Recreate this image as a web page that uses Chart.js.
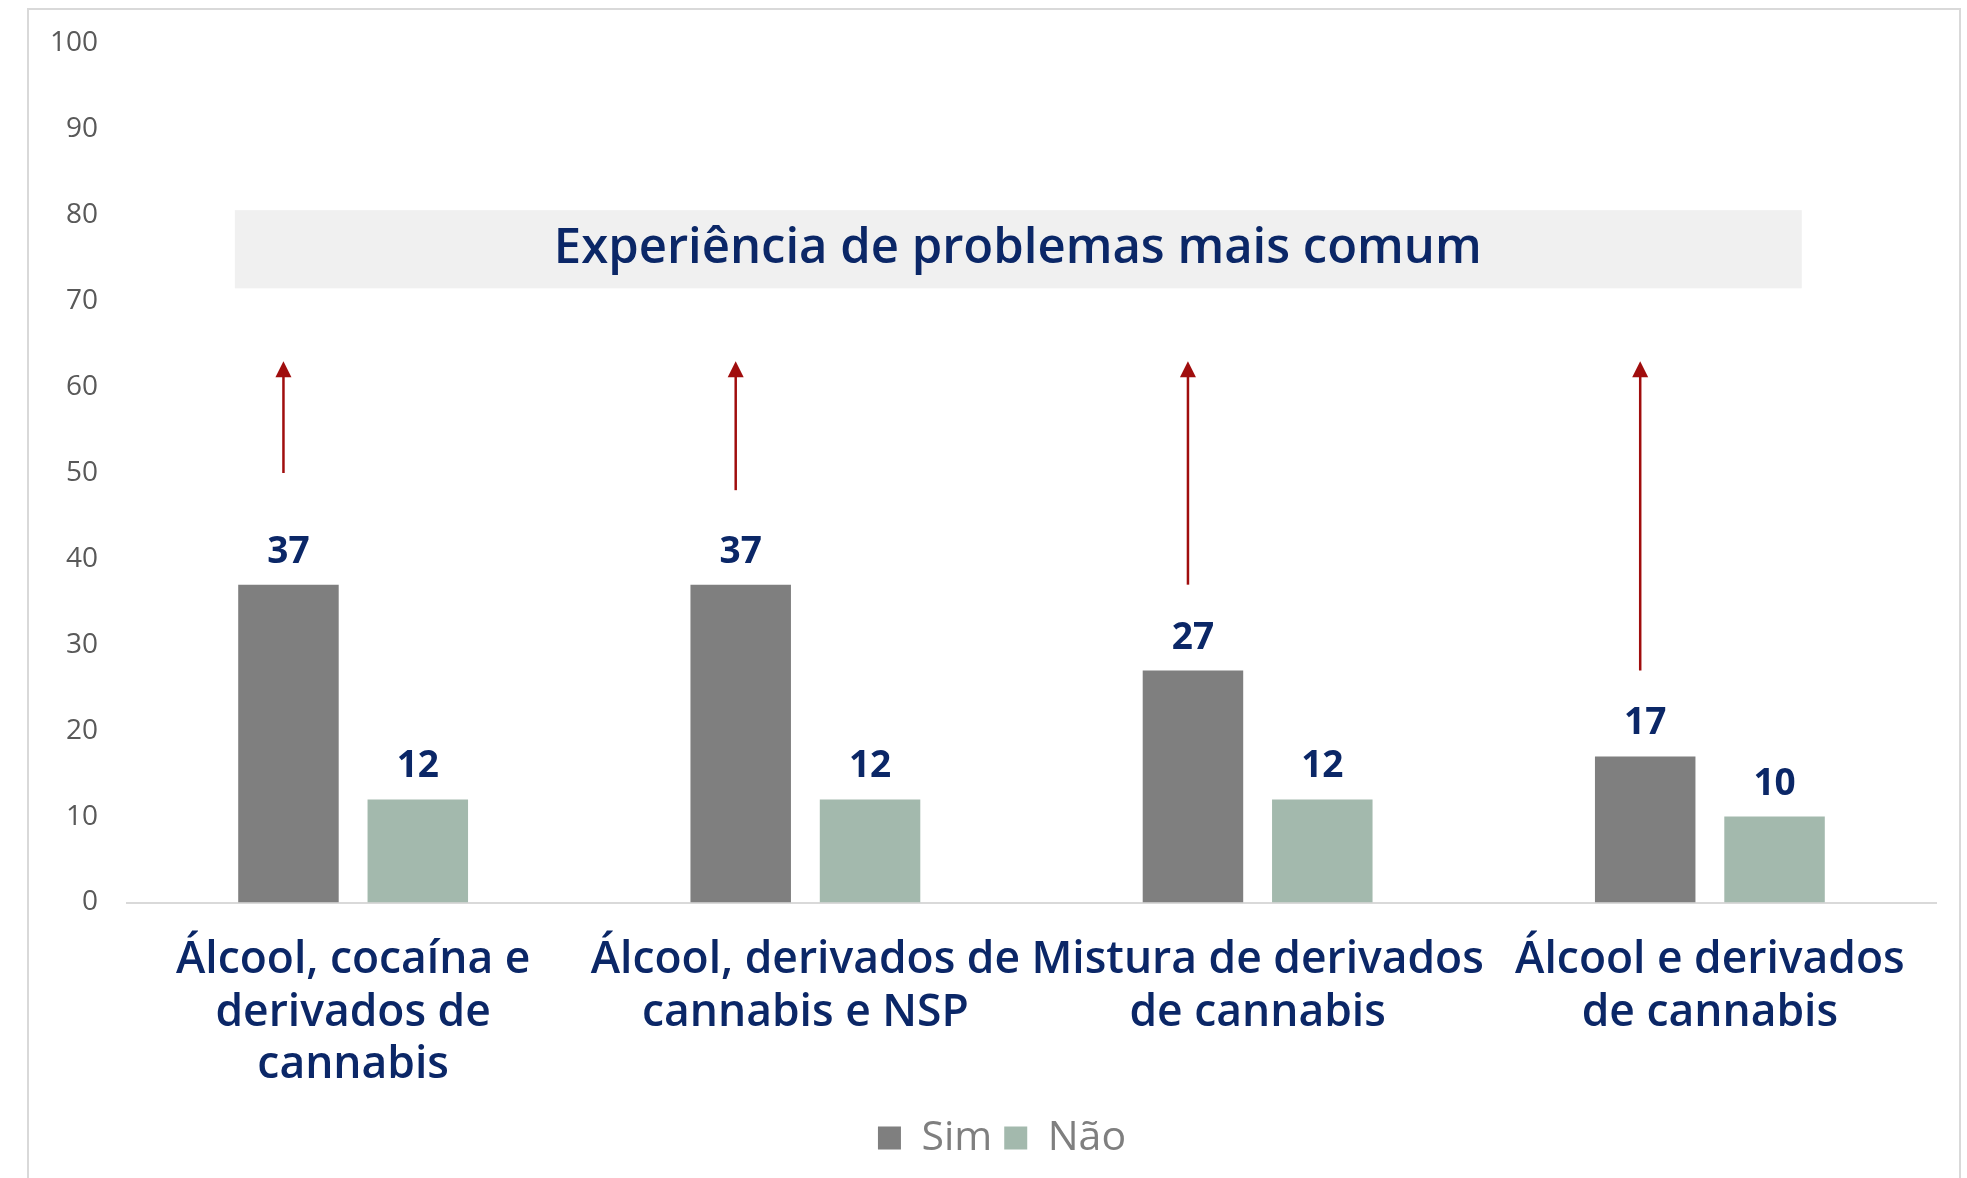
<!DOCTYPE html>
<html>
<head>
<meta charset="utf-8">
<script src="https://cdn.jsdelivr.net/npm/chart.js@4.4.0/dist/chart.umd.min.js"></script>
<style>
  html, body { margin: 0; padding: 0; background: #fff; }
  #wrap { position: relative; width: 1967px; height: 1178px; overflow: hidden; }
  #frame { position: absolute; left: 27px; top: 8px; width: 1934px; height: 1300px;
           border: 2px solid #d9d9d9; box-sizing: border-box; }
  canvas { position: absolute; left: 0; top: 0; }
</style>
</head>
<body>
<div id="wrap">
  <div id="frame"></div>
  <canvas id="chart" width="1967" height="1178"></canvas>
</div>
<script>
const categories = [
  ['Álcool, cocaína e', 'derivados de', 'cannabis'],
  ['Álcool, derivados de', 'cannabis e NSP'],
  ['Mistura de derivados', 'de cannabis'],
  ['Álcool e derivados', 'de cannabis']
]
const simValues = [37, 37, 27, 17]
const naoValues = [12, 12, 12, 10]
const seriesNames = ['Sim', 'Não']
const bannerText = 'Experiência de problemas mais comum'
const bannerRange = [71.5, 80.6]   // y values covered by the grey banner
const arrowStart = [50, 48, 37, 27]
const arrowEnd = 63

const navy = '#0b2767'
const labelFamily = '"Open Sans"'

// pick a font size so a text gets the width it has in the picture
function fitSize(text, weight, target) {
  const c = document.createElement('canvas').getContext('2d')
  c.font = weight + ' 100px ' + labelFamily
  return Math.round(100 * target / c.measureText(text).width * 10) / 10
}
const titleSize = fitSize(bannerText, '600', 928)
const tickSize = fitSize('Álcool, derivados de', '600', 429)

// grey banner, red arrows and value labels
const extras = {
  id: 'extras',
  beforeDraw(chart) {
    // legend in the picture sits a little right of centre
    chart.legend.left += 19
    chart.legend.right += 19
  },
  afterDatasetsDraw(chart) {
    const ctx = chart.ctx
    const y = chart.scales.y
    const area = chart.chartArea
    const w = area.right - area.left

    // banner
    const top = y.getPixelForValue(bannerRange[1])
    const bot = y.getPixelForValue(bannerRange[0])
    const bx0 = area.left + w * 0.0596
    const bx1 = area.left + w * 0.9258
    ctx.save()
    ctx.fillStyle = '#f0f0f0'
    ctx.fillRect(bx0, top, bx1 - bx0, bot - top)
    ctx.fillStyle = navy
    ctx.font = '600 ' + titleSize + 'px ' + labelFamily
    ctx.textAlign = 'center'
    ctx.textBaseline = 'middle'
    ctx.fillText(bannerText, area.left + w * 0.4924, (top + bot) / 2)

    // value labels
    chart.data.datasets.forEach((ds, di) => {
      chart.getDatasetMeta(di).data.forEach((bar, i) => {
        ctx.font = 'bold 37px "Open Sans"'
        ctx.fillStyle = navy
        ctx.textBaseline = 'alphabetic'
        ctx.fillText(ds.data[i], bar.x, bar.y - 22)
      })
    })

    // arrows above the Sim bars
    const sim = chart.getDatasetMeta(0).data
    ctx.strokeStyle = '#a00d0d'
    ctx.fillStyle = '#a00d0d'
    ctx.lineWidth = 2.5
    sim.forEach((bar, i) => {
      const x = bar.x - 5
      const y0 = y.getPixelForValue(arrowStart[i])
      const y1 = y.getPixelForValue(arrowEnd)
      ctx.beginPath()
      ctx.moveTo(x, y0)
      ctx.lineTo(x, y1 + 12)
      ctx.stroke()
      ctx.beginPath()
      ctx.moveTo(x, y1)
      ctx.lineTo(x - 8, y1 + 16)
      ctx.lineTo(x + 8, y1 + 16)
      ctx.closePath()
      ctx.fill()
    })
    ctx.restore()
  }
}

new Chart(document.getElementById('chart'), {
  type: 'bar',
  data: {
    labels: categories,
    datasets: [
      { label: seriesNames[0], data: simValues, backgroundColor: '#7f7f7f' },
      { label: seriesNames[1], data: naoValues, backgroundColor: '#a3b9ad' }
    ]
  },
  options: {
    responsive: false,
    animation: false,
    events: [],
    categoryPercentage: 0.572,
    barPercentage: 0.777,
    layout: { padding: { left: 30, right: 31, top: 43.5, bottom: 9.5 } },
    scales: {
      x: {
        grid: { display: false, drawTicks: false },
        border: { display: true, color: '#d9d9d9', width: 2 },
        ticks: {
          color: navy,
          font: { family: 'Open Sans', size: tickSize, weight: '600', lineHeight: 52.7 / tickSize },
          padding: 31.5,
          maxRotation: 0,
          autoSkip: false
        },
        afterFit(scale) { scale.height = 203 }
      },
      y: {
        min: 0,
        max: 100,
        grid: { display: false, drawTicks: false },
        border: { display: false },
        ticks: {
          stepSize: 10,
          color: '#595959',
          font: { family: 'Open Sans', size: 28, lineHeight: 0.6 },
          padding: 29
        },
        afterFit(scale) { scale.width = 97 }
      }
    },
    plugins: {
      legend: {
        position: 'bottom',
        labels: {
          color: '#7f7f7f',
          font: { family: 'Open Sans', size: 41, weight: '500' },
          boxWidth: 23,
          boxHeight: 23,
          padding: 12
        }
      },
      tooltip: { enabled: false }
    }
  },
  plugins: [extras]
})
</script>
</body>
</html>
